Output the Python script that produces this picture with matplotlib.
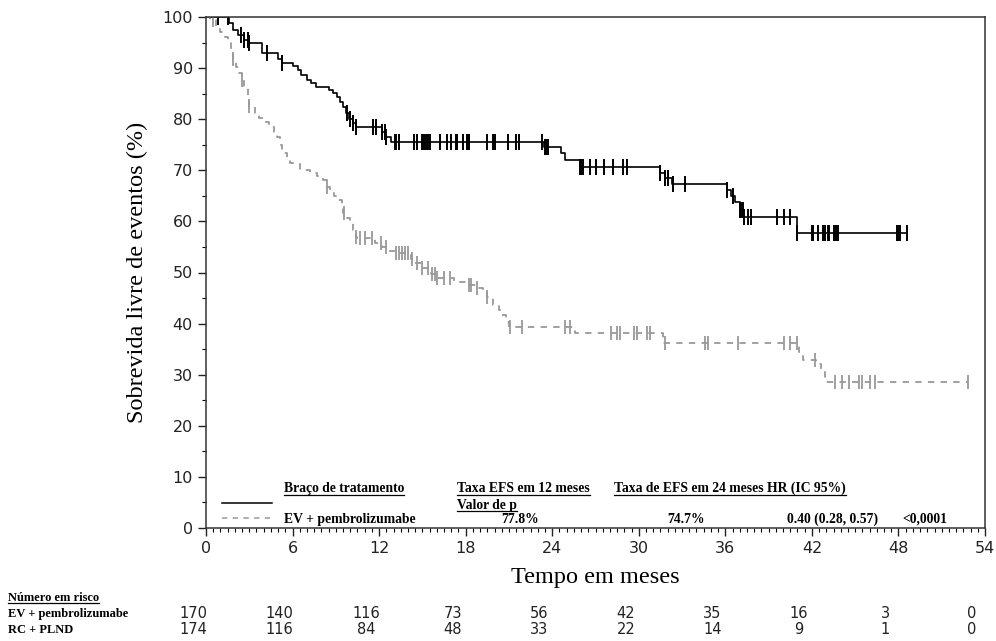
import numpy as np
import matplotlib
matplotlib.use("Agg")
import matplotlib.pyplot as plt
from matplotlib.lines import Line2D

# EV + pembrolizumabe (solid, black): step times (months) and survival (%)
ev_t = [0, 1.6, 1.9, 2.2, 2.6, 3.0, 3.9, 5.0, 5.3, 6.0, 6.4, 6.6, 7.0, 7.3, 7.6,
        8.5, 8.8, 9.1, 9.3, 9.5, 9.7, 9.9, 10.2, 10.4, 12.2, 12.5, 12.8, 23.4,
        24.6, 24.9, 25.9, 31.5, 31.8, 32.3, 36.1, 36.4, 36.7, 37.0, 37.3, 41.0, 48.6]
ev_s = [100, 98.8, 97.5, 96.5, 95.5, 94.9, 93.0, 91.8, 91.0, 90.5, 89.6, 88.6, 87.7, 87.1, 86.3,
        85.7, 85.2, 84.3, 83.3, 82.4, 81.2, 80.0, 79.2, 78.5, 77.5, 76.5, 75.5, 74.6,
        73.3, 72.0, 70.7, 69.4, 68.4, 67.3, 66.1, 64.9, 63.7, 62.3, 60.9, 57.7, 57.7]
ev_cens = [0.8, 1.5, 2.4, 2.6, 2.9, 3.0, 4.2, 5.3, 9.8, 10.0, 10.2, 10.4, 11.6, 11.8, 12.2,
           12.4, 12.5, 13.1, 13.2, 13.4, 14.4, 14.6, 15.0, 15.1, 15.2, 15.3, 15.4, 15.5,
           16.2, 16.7, 17.0, 17.3, 17.4, 17.8, 18.1, 18.2, 19.5, 19.9, 20.0, 20.9, 21.5,
           21.7, 23.3, 23.5, 23.6, 23.7, 25.9, 26.0, 26.1, 26.6, 27.0, 27.6, 28.2, 28.9,
           29.2, 31.5, 31.8, 32.0, 32.4, 33.2, 36.1, 36.5, 37.0, 37.1, 37.2, 37.3, 37.6,
           37.8, 39.6, 40.1, 40.5, 41.0, 42.0, 42.1, 42.4, 42.8, 42.9, 43.1, 43.2, 43.5,
           43.7, 43.8, 47.9, 48.0, 48.1, 48.6]

# RC + PLND (dashed, gray)
rc_t = [0, 0.3, 0.7, 1.0, 1.3, 1.5, 1.7, 1.9, 2.1, 2.3, 2.5, 2.6, 2.9, 3.0, 3.4, 3.7,
        4.1, 4.4, 4.7, 4.9, 5.1, 5.3, 5.6, 5.8, 6.5, 7.2, 7.7, 8.1, 8.4, 8.6, 8.9, 9.1,
        9.4, 9.5, 9.8, 10.0, 10.2, 10.4, 10.5, 11.7, 12.2, 12.6, 13.1, 14.2, 14.4, 15.0,
        15.6, 16.0, 17.2, 18.1, 18.8, 19.2, 19.5, 19.9, 20.3, 20.5, 20.8, 21.0, 25.6,
        31.7, 41.1, 41.4, 42.3, 42.6, 42.9, 52.8]
rc_s = [100, 99.4, 98.2, 97.0, 96.0, 95.0, 93.5, 91.8, 90.2, 89.0, 87.7, 86.1, 84.4, 82.5, 81.2, 80.2,
        79.4, 78.5, 77.5, 76.5, 75.0, 73.4, 72.3, 71.4, 70.1, 69.5, 68.8, 68.1, 66.8, 66.0, 64.9, 64.2,
        62.8, 61.6, 60.6, 59.9, 58.3, 57.0, 56.7, 55.8, 55.0, 54.3, 53.8, 52.6, 51.8, 50.9,
        49.8, 48.9, 48.2, 47.6, 46.9, 46.0, 45.2, 43.6, 42.6, 41.6, 40.3, 39.3, 38.2,
        36.2, 34.5, 32.9, 32.1, 30.6, 28.6, 28.6]
rc_cens = [0.5, 1.9, 2.5, 3.0, 8.4, 9.6, 10.4, 10.7, 11.0, 11.5, 12.1, 12.5, 13.2, 13.4, 13.6,
           13.8, 14.0, 14.3, 14.6, 15.0, 15.4, 15.7, 15.9, 16.0, 16.5, 16.9, 18.2, 18.4, 18.8,
           19.5, 21.1, 21.9, 24.9, 25.2, 28.1, 28.5, 28.7, 29.7, 29.9, 30.6, 30.8, 31.8,
           34.6, 34.8, 36.9, 40.1, 40.5, 41.0, 42.2, 43.6, 44.1, 44.6, 45.3, 45.5, 46.0,
           46.4, 52.8]

risk_times = [0, 6, 12, 18, 24, 30, 36, 42, 48, 54]
risk_ev = [170, 140, 116, 73, 56, 42, 35, 16, 3, 0]
risk_rc = [174, 116, 84, 48, 33, 22, 14, 9, 1, 0]

GRAY = "#999999"


def at(ts, ss, x):
    i = np.searchsorted(ts, x, side="right") - 1
    return ss[max(i, 0)]


fig = plt.figure(figsize=(9.96, 6.41), dpi=100)
ax = fig.add_axes([206 / 996, 1 - 528 / 641, 779 / 996, 511 / 641])

ax.step(ev_t, ev_s, where="post", color="black", lw=1.2)
ax.step(rc_t, rc_s, where="post", color=GRAY, lw=1.3, dashes=(3.5, 3.5))
ax.plot(ev_cens, [at(ev_t, ev_s, c) for c in ev_cens], ls="none", marker="|",
        ms=11, mew=1.4, color="black")
ax.plot(rc_cens, [at(rc_t, rc_s, c) for c in rc_cens], ls="none", marker="|",
        ms=10, mew=1.3, color=GRAY)

ax.set_xlim(0, 54)
ax.set_ylim(0, 100)
ax.set_xticks(np.arange(0, 55, 6))
ax.set_xticks(np.arange(0, 54.1, 0.5), minor=True)
ax.set_yticks(np.arange(0, 101, 10))
ax.set_yticks(np.arange(5, 100, 10), minor=True)
ax.tick_params(which="major", length=6, width=1, labelsize=11.5, colors="#222222")
ax.tick_params(which="minor", length=3, width=0.8)
for sp in ax.spines.values():
    sp.set_linewidth(1.1)
    sp.set_color("#333333")

ax.set_ylabel("Sobrevida livre de eventos (%)", family="Liberation Serif",
              fontsize=17.5, labelpad=10)
ax.set_xlabel("Tempo em meses", family="Liberation Serif", fontsize=17.5, labelpad=8)

# in-plot summary table
tf = dict(family="Liberation Serif", fontweight="bold", fontsize=9.8,
          transform=ax.transData, va="center")
ax.add_line(Line2D([1.1, 4.6], [4.9, 4.9], color="black", lw=1.1))
ax.add_line(Line2D([1.1, 4.6], [2.0, 2.0], color=GRAY, lw=1.1, dashes=(3.5, 3.5)))
underlined = [
    ax.text(5.4, 7.7, "Braço de tratamento", **tf),
    ax.text(17.4, 7.7, "Taxa EFS em 12 meses", **tf),
    ax.text(28.3, 7.7, "Taxa de EFS em 24 meses HR (IC 95%)", **tf),
    ax.text(17.4, 4.4, "Valor de p", **tf),
]
ax.text(5.4, 1.7, "EV + pembrolizumabe", **tf)
ax.text(21.8, 1.7, "77.8%", ha="center", **tf)
ax.text(33.3, 1.7, "74.7%", ha="center", **tf)
ax.text(43.4, 1.7, "0.40 (0.28, 0.57)", ha="center", **tf)
ax.text(49.8, 1.7, "<0,0001", ha="center", **tf)

# risk table
lf = dict(family="Liberation Serif", fontweight="bold", fontsize=9, va="center")
hdr = fig.text(8 / 996, 1 - 598 / 641, "Número em risco", **lf)
underlined.append(hdr)
fig.text(8 / 996, 1 - 614 / 641, "EV + pembrolizumabe", **lf)
fig.text(8 / 996, 1 - 630 / 641, "RC + PLND", **lf)
for t, a, b in zip(risk_times, risk_ev, risk_rc):
    xf = (206 + t * 779 / 54 - 13) / 996
    fig.text(xf, 1 - 614 / 641, str(a), ha="center", va="center", fontsize=10.5, color="#222222")
    fig.text(xf, 1 - 630 / 641, str(b), ha="center", va="center", fontsize=10.5, color="#222222")

# underline headers
fig.canvas.draw()
r = fig.canvas.get_renderer()
for txt in underlined:
    bb = txt.get_window_extent(r).transformed(fig.transFigure.inverted())
    fig.add_artist(Line2D([bb.x0, bb.x1], [bb.y0 + 0.001, bb.y0 + 0.001],
                          transform=fig.transFigure, color="black", lw=0.9))

fig.savefig("out.png", dpi=100)
